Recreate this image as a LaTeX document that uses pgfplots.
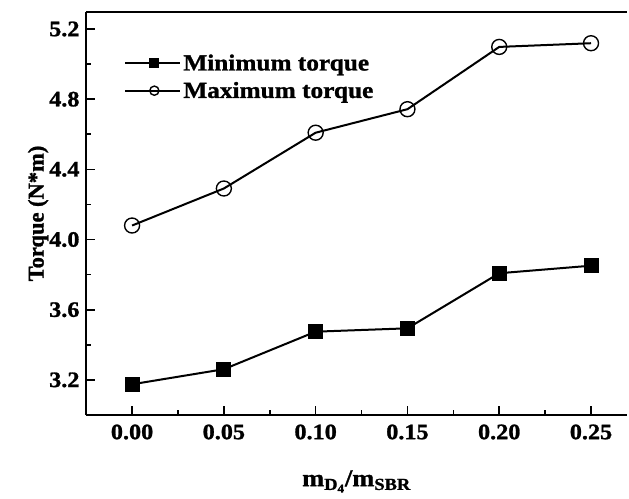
\documentclass[border=0pt]{standalone}
\usepackage{fontspec}
\setmainfont[FakeStretch=1.1, BoldFeatures={FakeBold=1.2}]{Liberation Serif}
\newfontfamily\ylfont[BoldFeatures={FakeBold=1.2}]{Liberation Serif}
\usepackage{pgfplots}
\pgfplotsset{compat=1.18}

\pgfplotstableread{
x     tmin   tmax
0.00  3.175  4.080
0.05  3.261  4.291
0.10  3.475  4.609
0.15  3.494  4.743
0.20  3.808  5.098
0.25  3.851  5.119
}\torque

\begin{document}
\begin{tikzpicture}
\begin{axis}[
    name=ax,
    scale only axis,
    width=541pt, height=403pt,
    xmin=-0.0251, xmax=0.2696,
    ymin=3.0, ymax=5.297,
    axis lines=left,
    axis line style={line width=2pt, -},
    xtick={0,0.05,...,0.25},
    ytick={3.2,3.6,...,5.2},
    minor x tick num=1,
    minor y tick num=1,
    tick align=inside,
    major tick length=9pt,
    minor tick length=5pt,
    tick style={line width=1.6pt, black},
    xticklabel style={/pgf/number format/fixed, /pgf/number format/fixed zerofill, /pgf/number format/precision=2},
    yticklabel style={/pgf/number format/fixed, /pgf/number format/fixed zerofill, /pgf/number format/precision=1},
    /pgf/number format/assume math mode=true,
    ticklabel style={font=\fontsize{22}{25}\selectfont\bfseries},
    xticklabel style={yshift=-6pt},
    yticklabel style={xshift=-3pt},
    xlabel={m\textsubscript{D\textsubscript{4}}/m\textsubscript{SBR}},
    ylabel={Torque (N*m)},
    xlabel style={yshift=-24pt, font=\fontsize{24}{26}\selectfont\bfseries},
    ylabel style={yshift=-6pt, font=\fontsize{22.5}{26}\ylfont\bfseries},
    legend style={draw=none, fill=none, at={(0.065,0.905)}, anchor=north west,
        font=\fontsize{23}{26}\selectfont\bfseries, row sep=6pt},
    legend cell align=left,
    legend image code/.code={
        \draw[#1] (0pt,0pt) -- (22pt,0pt);
        \draw[#1] (37pt,0pt) -- (55pt,0pt);
        \draw[#1, mark size=4.6pt, mark repeat=2, mark phase=2] plot coordinates {(0pt,0pt) (29pt,0pt) (55pt,0pt)};
    },
    clip=false,
]
\addplot[black, line width=2pt, mark=square*, mark size=7pt, mark options={solid, fill=black, line width=1pt}]
    table[x=x, y=tmin] {\torque};
\addlegendentry{Minimum torque}
\addplot[black, line width=2pt, mark=o, mark size=7.5pt, mark options={solid, fill=white, line width=1.4pt}]
    table[x=x, y=tmax] {\torque};
\addlegendentry{Maximum torque}
\draw[line width=2pt] (rel axis cs:0,1) -- (rel axis cs:1,1);
\end{axis}
\pgfresetboundingbox
\path[use as bounding box] ([shift={(-86pt,-83pt)}]ax.south west) rectangle ([shift={(2pt,12pt)}]ax.north east);
\end{tikzpicture}
\end{document}
